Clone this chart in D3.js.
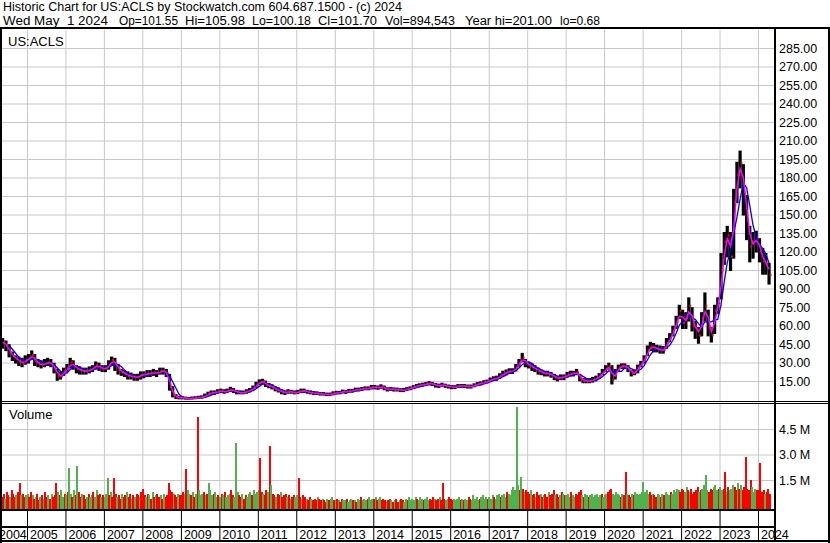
<!DOCTYPE html>
<html>
<head>
<meta charset="utf-8">
<script src="https://cdn.jsdelivr.net/npm/d3@7"></script>
<style>
  html, body { margin: 0; padding: 0; background: #fff; }
  svg { display: block; font-family: "Liberation Sans", Arial, sans-serif; }
</style>
</head>
<body>
<svg id="chart" width="830" height="543"></svg>
<script>
// Header text
const titleLine = "Historic Chart for US:ACLS by Stockwatch.com 604.687.1500 - (c) 2024";
const quoteParts = ["Wed May  1 2024", "Op=101.55", "Hi=105.98", "Lo=100.18", "Cl=101.70", "Vol=894,543", "Year hi=201.00", "lo=0.68"];
const symbol = "US:ACLS";

// Monthly bars, Apr 2004 .. Apr 2024 (one line per year)
const closes = [
  47, 46, 44, 38, 35, 33, 31, 29, 32,
  33, 36, 31, 29, 28, 29, 30, 29, 25, 19, 19, 23,
  25, 30, 27, 25, 24, 23, 23, 24, 25, 28, 26, 25,
  25, 28, 32, 29, 24, 22, 21, 19, 19, 18, 18, 20,
  20, 21, 21, 22, 21, 23, 23, 21, 10, 3.5, 1.8, 1.4,
  1.3, 1.0, 0.8, 1.0, 1.2, 1.5, 1.8, 2.5, 4.5, 5.5, 5.5, 6.5,
  7, 6, 7, 8, 7, 6, 5.5, 5.5, 6.5, 7.5, 9, 12,
  14, 14.5, 12, 11, 10, 8, 7.5, 6, 5.5, 6.5, 6, 5.5,
  6, 7, 7, 6, 5.5, 5, 5, 4.5, 4.5, 4, 4, 5,
  5.5, 5.5, 6.5, 6, 7, 7, 8, 8, 8.5, 9, 9, 10,
  10, 9.5, 10.5, 9, 8, 8.5, 8, 8, 7.5, 7.5, 8.5, 9,
  10, 11, 11.5, 12, 12.5, 13, 12.5, 11.5, 11, 12, 11, 10.5,
  10, 10, 11, 11, 11, 10.5, 10.5, 11.5, 12.5, 13, 14, 14.5,
  16, 17, 17, 19, 21, 22, 23, 23, 26, 30, 34, 29,
  28, 26, 25, 23, 22, 21, 21, 20, 18, 17, 18, 18,
  20, 21, 21, 22, 17, 15, 15, 15, 16, 17, 19, 22,
  25, 27, 16, 22, 26, 27, 27, 25, 21, 22, 26, 29,
  33, 40, 43, 42, 41, 40, 40, 46, 50, 56, 63, 72,
  62, 66, 76, 60, 58, 52, 66, 76, 58, 52, 72, 78,
  105, 128, 133, 116, 160, 182, 192, 168, 145, 124, 128, 130,
  120, 112, 110, 101
];
const highs = [
  51, 49, 47, 44, 38, 35, 34, 33, 35,
  36, 39, 36, 32, 31, 32, 33, 32, 29, 24, 22, 25,
  28, 33, 31, 27, 26, 25, 25, 26, 27, 30, 29, 27,
  27, 31, 34, 33, 28, 24, 23, 22, 21, 20, 20, 22,
  22, 23, 23, 24, 23, 25, 25, 24, 20, 10, 3.5, 2.2,
  1.8, 1.5, 1.2, 1.6, 1.8, 2.2, 2.5, 4, 5.5, 6.5, 6.5, 7.5,
  8, 7.5, 8, 9.5, 8.5, 7, 6.5, 6.5, 7.5, 8.5, 10.5, 13.5,
  15.5, 16, 14.5, 12.5, 11.5, 10, 9, 7.5, 6.5, 7.5, 7, 6.5,
  7, 8, 8, 7, 6.5, 6, 5.8, 5.2, 5.2, 4.8, 4.8, 5.8,
  6.2, 6.2, 7.2, 6.8, 7.8, 7.8, 8.8, 8.8, 9.3, 9.8, 9.8, 11,
  11, 10.5, 11.5, 10.5, 9, 9.2, 9, 8.8, 8.3, 8.5, 9.2, 9.8,
  10.8, 11.8, 12.3, 12.8, 13.3, 14, 13.5, 12.5, 12, 12.8, 12, 11.3,
  10.8, 10.8, 11.8, 11.8, 11.8, 11.3, 11.3, 12.3, 13.3, 13.8, 14.8, 15.3,
  17, 18, 18.5, 20.5, 22.5, 23.5, 24.5, 24.5, 28, 32, 37, 32,
  30, 28.5, 27, 25, 23.5, 22.5, 22.5, 21.5, 20, 18.5, 19.5, 19.5,
  21.5, 22.5, 22.5, 24, 20, 16.5, 16.5, 16.5, 17.5, 18.5, 20.5, 24,
  27, 29, 27, 24, 27.5, 28.5, 28.5, 27, 23, 23.5, 27.5, 30.5,
  35, 43, 46, 45, 43.5, 43, 42.5, 49, 53, 59, 67, 76,
  72, 70, 82, 74, 63, 58, 70, 86, 72, 58, 76, 82,
  118, 135, 140, 135, 170, 192, 201, 190, 165, 140, 135, 136,
  130, 122, 118, 110
];
const lows = [
  44, 42, 40, 35, 32, 30, 28, 27, 29,
  30, 33, 28, 27, 26, 27, 28, 27, 22, 16, 17, 20,
  23, 26, 25, 22, 21, 21, 21, 22, 23, 25, 24, 23,
  23, 25, 28, 24, 21, 20, 19, 17, 17, 16, 16, 17,
  18, 19, 19, 20, 19, 21, 21, 19, 8, 2.5, 1.2, 0.9,
  0.9, 0.7, 0.68, 0.8, 1.0, 1.2, 1.5, 2, 3.5, 4.5, 4.6, 5.5,
  6, 5.5, 6, 7, 6, 5, 5, 5, 5.5, 6.5, 8, 10,
  12.5, 13, 11, 10, 9, 7.5, 6.5, 5, 4.5, 5.5, 5.5, 5,
  5.2, 6, 6.2, 5.5, 5, 4.5, 4.5, 4, 4, 3.6, 3.6, 4.2,
  5, 5, 5.8, 5.4, 6.3, 6.3, 7.2, 7.3, 7.8, 8.3, 8.3, 9,
  9, 8.7, 9.5, 8.3, 7.3, 7.8, 7.3, 7.3, 6.8, 6.8, 7.8, 8.3,
  9.3, 10.2, 10.7, 11.2, 11.7, 12.2, 11.7, 10.5, 10.2, 11.2, 10.3, 9.7,
  9.2, 9.2, 10.2, 10.2, 10.2, 9.7, 9.7, 10.7, 11.7, 12.2, 13.2, 13.8,
  15, 16, 16, 17.5, 19.5, 20.5, 21.5, 21.5, 23.5, 27, 31, 27,
  26, 24, 23, 21, 20.5, 19.5, 19.5, 18.5, 16.5, 15.5, 16.5, 16.5,
  18.5, 19.5, 19.5, 20.5, 15.5, 14, 14, 14, 14.5, 15.5, 17.5, 20.5,
  23, 25, 13, 17, 24, 25.5, 25.5, 23, 19.5, 20.5, 22, 27,
  30, 36, 40, 39, 39, 38, 38, 42, 47, 52, 58, 66,
  58, 58, 64, 56, 50, 46, 52, 64, 52, 47, 54, 70,
  82, 110, 116, 105, 115, 160, 172, 150, 130, 112, 115, 120,
  112, 102, 102, 94
];

// Half-monthly volume in millions, Apr 2004 .. Apr 2024, with up (g) / down (r) flag
const volumes = [
  0.6, 0.9, 0.5, 0.7, 0.4, 0.8, 0.6, 0.5, 0.9, 0.7, 0.5, 0.6, 0.8, 1.3, 0.6, 0.7, 0.5, 0.6,
  0.7, 0.5, 0.8, 0.6, 0.4, 0.5, 0.7, 0.3, 0.5, 0.6, 0.4, 0.8, 0.5, 0.6, 0.4, 0.7, 0.5, 0.6, 1.35, 0.8, 0.6, 0.9, 0.5, 0.7,
  0.6, 0.8, 2.2, 0.7, 0.5, 0.9, 0.6, 2.3, 0.8, 0.5, 0.7, 0.6, 0.4, 0.5, 0.7, 0.5, 0.6, 0.8, 0.5, 0.9, 0.6, 0.7, 0.5, 0.6,
  0.5, 0.7, 1.6, 0.6, 0.8, 0.5, 1.6, 0.7, 0.5, 0.6, 0.4, 0.7, 0.5, 0.6, 0.8, 0.5, 0.7, 0.4, 0.6, 0.5, 0.7, 0.6, 0.5, 0.8,
  1.0, 0.6, 0.5, 0.7, 0.6, 0.4, 0.8, 0.5, 0.6, 0.7, 0.5, 0.6, 0.4, 0.7, 0.5, 0.6, 1.35, 0.9, 0.8, 0.7, 0.6, 0.5, 0.7, 0.6,
  0.6, 0.8, 0.7, 2.15, 0.9, 0.7, 0.6, 0.8, 0.5, 0.7, 5.2, 0.9, 0.6, 0.7, 0.8, 0.6, 0.7, 1.35, 0.9, 0.6, 0.7, 0.8, 0.5, 0.6,
  0.5, 0.7, 0.6, 0.8, 0.5, 0.6, 0.7, 0.9, 0.6, 0.5, 3.7, 0.8, 0.6, 0.5, 0.7, 0.4, 0.6, 0.5, 0.7, 0.8, 0.6, 0.9, 0.7, 0.8,
  0.9, 2.8, 0.8, 0.7, 0.6, 0.9, 0.8, 3.5, 1.2, 0.7, 0.6, 0.5, 0.7, 0.6, 0.8, 0.5, 0.6, 0.7, 0.5, 0.6, 0.4, 0.5, 0.6, 0.5,
  0.6, 1.6, 0.5, 0.4, 0.6, 0.5, 0.4, 0.3, 0.5, 0.4, 0.3, 0.4, 0.3, 0.5, 0.4, 0.3, 0.4, 0.3, 0.2, 0.4, 0.3, 0.4, 0.5, 0.3,
  0.3, 0.4, 0.3, 0.2, 0.4, 0.3, 0.3, 0.4, 0.2, 0.3, 0.4, 0.3, 0.3, 0.2, 0.4, 0.3, 0.5, 0.3, 0.4, 0.3, 0.4, 0.5, 0.3, 0.4,
  0.4, 0.5, 0.3, 0.4, 0.5, 0.3, 0.4, 0.3, 0.2, 0.3, 0.4, 0.3, 0.2, 0.3, 0.4, 0.2, 0.3, 0.4, 0.3, 0.2, 0.4, 0.3, 0.5, 0.3,
  0.4, 0.3, 0.5, 0.4, 0.3, 0.5, 0.4, 0.3, 0.4, 0.5, 0.3, 0.4, 0.3, 0.5, 0.4, 0.3, 0.4, 0.5, 0.3, 1.35, 0.4, 0.3, 0.4, 0.5,
  0.4, 0.3, 0.4, 0.3, 0.4, 0.5, 0.3, 0.4, 0.3, 0.4, 0.3, 0.5, 0.4, 0.3, 0.6, 0.4, 0.5, 0.3, 0.4, 0.5, 0.6, 0.4, 0.5, 0.4,
  0.5, 0.4, 0.6, 0.5, 0.4, 0.6, 0.7, 0.5, 0.6, 0.7, 0.5, 0.8, 0.7, 0.6, 0.9, 1.1, 0.9, 5.8, 1.2, 0.9, 1.7, 1.0, 0.8, 0.9,
  0.8, 0.7, 0.9, 0.6, 0.7, 0.5, 0.8, 0.6, 0.7, 0.5, 0.6, 0.7, 0.5, 0.8, 0.6, 0.7, 0.9, 0.6, 0.7, 0.5, 0.6, 0.8, 0.7, 0.6,
  0.6, 0.7, 0.5, 0.8, 0.6, 0.5, 0.7, 0.6, 0.8, 0.9, 0.6, 0.5, 0.7, 0.6, 0.5, 0.6, 0.7, 0.5, 0.6, 0.7, 0.5, 0.6, 0.7, 0.5,
  0.6, 0.7, 0.8, 0.9, 1.0, 0.7, 0.6, 0.8, 0.7, 0.6, 0.5, 0.7, 0.6, 2.0, 0.7, 0.6, 0.5, 0.7, 0.6, 0.8, 0.7, 0.6, 0.7, 0.8,
  1.4, 0.8, 0.9, 0.7, 0.8, 0.6, 0.7, 0.6, 0.5, 0.7, 0.6, 0.5, 0.7, 0.6, 0.8, 0.7, 0.6, 0.8, 0.7, 0.9, 0.8, 1.0, 0.9, 0.8,
  1.0, 0.9, 0.8, 1.1, 0.9, 0.8, 1.0, 0.7, 0.8, 0.9, 1.1, 0.8, 0.9, 1.0, 1.2, 1.8, 0.9, 0.8, 1.0, 0.9, 1.1, 1.2, 0.9, 1.0,
  1.1, 0.9, 1.0, 2.0, 0.8, 1.1, 0.9, 1.0, 1.2, 1.1, 0.9, 1.3, 1.0, 1.2, 0.9, 1.1, 2.85, 1.0, 0.9, 1.5, 1.1, 0.8, 1.0, 0.9,
  0.9, 2.5, 0.8, 0.9, 0.7, 0.8, 1.0, 0.7
];
const volumeUpDown =
  "rgrrgrrgrrrgrrgrrg" +
  "grrgrgrrgrgrrgrgrrrgrggr" +
  "grggrgrgrrgrrgrggrggrrgr" +
  "gggrgrrrgrrgrrgrrgrgrrgr" +
  "rrgrgrgrgrrgrgrrrrrgrrgr" +
  "rrgrggrgrgrgggrgrgggrggr" +
  "grgrgggrrgggrrgrrgggrggg" +
  "grrgrrgrgrrgrrgrrrgrgrrg" +
  "grrgrrgrrgrrrgrrgrrgrggr" +
  "grgrrggrgggrgrggrgggrggg" +
  "rgrggrrrgrrgrgrrgrrggrgg" +
  "gggrgggrgggrrrgrrgrrrggr" +
  "rrggggrgrggrrgggggrggggr" +
  "gggrgggrgggrgggggggrgrgr" +
  "rrgrrgrrgrgrrgrrrgrrgrgr" +
  "gggrggrrrrgrggrgggggggrg" +
  "ggrrrgggggrgrrgrrgrggggg" +
  "ggggrrgrrggrgrgggrgggggr" +
  "rrggrgrrrrrgrggggrrrgggr" +
  "ggrrgrgggrrgrgrrrrrrgggr" +
  "rrrrgrrr";

// Axis labels
const priceTicks = [15, 30, 45, 60, 75, 90, 105, 120, 135, 150, 165, 180, 195, 210, 225, 240, 255, 270, 285];
const volumeTicks = [1.5, 3.0, 4.5];
const yearLabels = ["2004", "2005", "2006", "2007", "2008", "2009", "2010", "2011", "2012", "2013", "2014",
  "2015", "2016", "2017", "2018", "2019", "2020", "2021", "2022", "2023", "2024"];

// Layout
const W = 830, H = 543;
const plotL = 2, plotR = 774;
const priceTop = 30, priceBot = 401;
const volTop = 404, volBot = 509;
const gridColor = "#c8c8c8";
const upColor = "#4db34d", downColor = "#ff0000";

const svg = d3.select("#chart");

// Scales
const x = d3.scaleTime()
  .domain([new Date(2005, 0, 1), new Date(2024, 0, 1)])
  .range([27, 758]);
const y = d3.scaleLinear().domain([0, 285]).range([399.5, 48]);
const yv = d3.scaleLinear().domain([0, 4.5]).range([505.5, 429]);

const monthDates = closes.map((c, i) => new Date(2004, 3 + i, 15));
const halfDates = volumes.map((v, i) => new Date(2004, 3 + Math.floor(i / 2), i % 2 ? 23 : 8));
const yearStarts = yearLabels.slice(1).map(s => new Date(+s, 0, 1));

svg.append("rect").attr("width", W).attr("height", H).attr("fill", "#fff");

const defs = svg.append("defs");
defs.append("clipPath").attr("id", "clipPrice").append("rect")
  .attr("x", plotL).attr("y", priceTop).attr("width", plotR - plotL).attr("height", priceBot - priceTop);
defs.append("clipPath").attr("id", "clipVol").append("rect")
  .attr("x", plotL).attr("y", volTop).attr("width", plotR - plotL).attr("height", volBot - volTop);

// Vertical year grid in both panels
[[priceTop, priceBot], [volTop, volBot]].forEach(([t, b]) => {
  svg.append("g")
    .attr("transform", "translate(0," + b + ")")
    .call(d3.axisBottom(x).tickValues(yearStarts).tickSize(-(b - t)).tickFormat(""))
    .call(g => g.select(".domain").remove())
    .call(g => g.selectAll("line").attr("stroke", gridColor));
});

// Horizontal price grid
svg.append("g")
  .attr("transform", "translate(" + plotR + ",0)")
  .call(d3.axisRight(y).tickValues(priceTicks).tickSize(-(plotR - plotL)).tickFormat(""))
  .call(g => g.select(".domain").remove())
  .call(g => g.selectAll("line").attr("stroke", gridColor));

// Horizontal volume grid
svg.append("g")
  .attr("transform", "translate(" + plotR + ",0)")
  .call(d3.axisRight(yv).tickValues(volumeTicks).tickSize(-(plotR - plotL)).tickFormat(""))
  .call(g => g.select(".domain").remove())
  .call(g => g.selectAll("line").attr("stroke", gridColor));

// Volume bars
svg.append("g")
  .attr("clip-path", "url(#clipVol)")
  .attr("shape-rendering", "crispEdges")
  .selectAll("rect")
  .data(volumes)
  .join("rect")
  .attr("x", (d, i) => x(halfDates[i]) - 1)
  .attr("width", 2)
  .attr("y", d => yv(d))
  .attr("height", d => yv(0) - yv(d) + 4)
  .attr("fill", (d, i) => volumeUpDown[i] === "g" ? upColor : downColor);

// Price panel
const pricePanel = svg.append("g").attr("clip-path", "url(#clipPrice)");

pricePanel.append("g")
  .selectAll("line")
  .data(closes)
  .join("line")
  .attr("x1", (d, i) => x(monthDates[i]))
  .attr("x2", (d, i) => x(monthDates[i]))
  .attr("y1", (d, i) => y(highs[i]) - 1)
  .attr("y2", (d, i) => y(lows[i]) + 1)
  .attr("stroke", "#000")
  .attr("stroke-width", 3.2);

// close ticks
pricePanel.append("g")
  .selectAll("rect")
  .data(closes)
  .join("rect")
  .attr("x", (d, i) => x(monthDates[i]) + 0.4)
  .attr("y", d => y(d) - 1)
  .attr("width", 2)
  .attr("height", 2)
  .attr("fill", "#ff0000");

// moving averages of the monthly closes
const ma = n => closes.map((c, i) => i < n - 1 ? null : d3.mean(closes.slice(i - n + 1, i + 1)));
const maLine = d3.line()
  .defined(d => d != null)
  .x((d, i) => x(monthDates[i]))
  .y(d => y(d));

pricePanel.append("path")
  .datum(ma(4))
  .attr("fill", "none")
  .attr("stroke", "#0000ff")
  .attr("stroke-width", 1.3)
  .attr("d", maLine);

pricePanel.append("path")
  .datum(ma(2))
  .attr("fill", "none")
  .attr("stroke", "#ff00ff")
  .attr("stroke-width", 1.5)
  .attr("d", maLine);

// Right-hand axes
svg.append("g")
  .attr("transform", "translate(" + (plotR + 2) + ",0)")
  .call(d3.axisRight(y).tickValues(priceTicks).tickSize(0).tickPadding(3).tickFormat(d3.format(".2f")))
  .call(g => g.select(".domain").remove())
  .call(g => g.selectAll("text").attr("font-size", 12.5).attr("fill", "#000").attr("font-family", null));

svg.append("g")
  .attr("transform", "translate(" + (plotR + 2) + ",0)")
  .call(d3.axisRight(yv).tickValues(volumeTicks).tickSize(0).tickPadding(3).tickFormat(d => d.toFixed(1) + " M"))
  .call(g => g.select(".domain").remove())
  .call(g => g.selectAll("text").attr("font-size", 12.5).attr("fill", "#000").attr("font-family", null));

// Bottom date strip: year separators and labels
svg.append("g")
  .attr("transform", "translate(0,510)")
  .call(d3.axisBottom(x).tickValues(yearStarts).tickSize(31).tickFormat(""))
  .call(g => g.select(".domain").remove())
  .call(g => g.selectAll("line").attr("stroke", "#000"));

svg.append("g")
  .selectAll("text")
  .data(yearLabels)
  .join("text")
  .attr("x", d => Math.max(x(new Date(+d, 0, 1)) + 3, -1))
  .attr("y", 539)
  .attr("font-size", 12.5)
  .attr("fill", "#000")
  .text(d => d);

// Frame lines
const frame = svg.append("g").attr("fill", "#000");
frame.append("rect").attr("x", 0).attr("y", 27).attr("width", W).attr("height", 2);
frame.append("rect").attr("x", 0).attr("y", 27).attr("width", 2).attr("height", H - 27);
frame.append("rect").attr("x", plotR).attr("y", 27).attr("width", 2).attr("height", 515);
frame.append("rect").attr("x", W - 2).attr("y", 27).attr("width", 2).attr("height", H - 27);
frame.append("rect").attr("x", 0).attr("y", 401).attr("width", W).attr("height", 1);
frame.append("rect").attr("x", 0).attr("y", 403).attr("width", W).attr("height", 1);
frame.append("rect").attr("x", 0).attr("y", 509).attr("width", plotR + 2).attr("height", 2);
frame.append("rect").attr("x", 0).attr("y", 526).attr("width", plotR + 2).attr("height", 2);
frame.append("rect").attr("x", 0).attr("y", 540).attr("width", W).attr("height", 2);

// Panel captions
svg.append("text").attr("x", 8).attr("y", 46).attr("font-size", 13).attr("fill", "#000").text(symbol);
svg.append("text").attr("x", 9).attr("y", 419).attr("font-size", 13).attr("fill", "#000").text("Volume");

// Header
svg.append("text")
  .attr("x", 3).attr("y", 11)
  .attr("font-size", 12)
  .attr("textLength", 399)
  .attr("lengthAdjust", "spacingAndGlyphs")
  .text(titleLine);

const quoteX = [3, 119, 185, 252, 318, 385, 465, 560];
const quoteW = [105, 59, 60, 59, 59, 70, 87, 40];
svg.append("g")
  .selectAll("text")
  .data(quoteParts)
  .join("text")
  .attr("x", (d, i) => quoteX[i])
  .attr("y", 25)
  .attr("font-size", 12)
  .attr("xml:space", "preserve")
  .style("white-space", "pre")
  .attr("textLength", (d, i) => quoteW[i])
  .attr("lengthAdjust", "spacingAndGlyphs")
  .text(d => d);
</script>
</body>
</html>
